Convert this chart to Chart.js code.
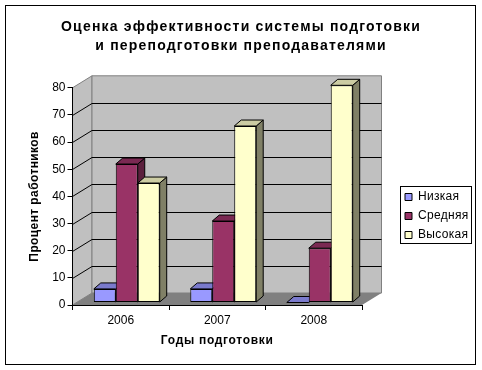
<!DOCTYPE html>
<html>
<head>
<meta charset="utf-8">
<script src="https://cdn.jsdelivr.net/npm/chart.js@4"></script>
<style>
    html, body { margin: 0; padding: 0; background: #fff; }
    #grafico { display: block; }
</style>
</head>
<body>
<div style="width:482px;height:370px"><canvas id="grafico" width="482" height="370"></canvas></div>
<script>
const years = ["2006", "2007", "2008"];
const lowValues = [5, 5, 0];
const midValues = [51, 30, 20];
const highValues = [44, 65, 80];
const chartTitle = ["Оценка эффективности системы подготовки", "и переподготовки преподавателями"];
const fontName = "'Liberation Sans', Arial, sans-serif";

// Depth of the fake 3D box and of the bars
const wallDx = 19.5, wallDy = -12;
const barDx = 7, barDy = -6;
const barShiftX = 6, barShiftY = -2.5;

const sideColors = ["#5c5c99", "#5c1f3d", "#808066"];
const topColors = ["#7a7acc", "#7a2952", "#cccca3"];

function poly(ctx, pts, fill, stroke) {
    ctx.beginPath();
    pts.forEach((p, i) => i ? ctx.lineTo(p[0], p[1]) : ctx.moveTo(p[0], p[1]));
    ctx.closePath();
    if (fill) { ctx.fillStyle = fill; ctx.fill(); }
    if (stroke) { ctx.strokeStyle = stroke; ctx.lineWidth = 1; ctx.stroke(); }
}

// The reference text is hinted wider than Liberation Sans, so spread the letters a bit
function spread(obj, method, spacing) {
    if (obj["_spread" + method]) return;
    obj["_spread" + method] = true;
    const original = obj[method];
    obj[method] = function () {
        const ctx = this.ctx;
        ctx.letterSpacing = spacing;
        original.apply(this, arguments);
        ctx.letterSpacing = "0px";
    };
}

const escena3d = {
    id: "escena3d",
    afterLayout(chart) {
        // legend sits right of the plot, the title is centred on the whole frame
        const l = chart.legend;
        l.left = 398; l.right = 471; l.top = 184; l.bottom = 280;
        l.width = 73; l.height = 96;
        const t = chart.titleBlock;
        t.left = 0; t.right = 482; t.width = 482;
        spread(t, "draw", "1.2px");
        spread(l, "draw", "0.3px");
        spread(chart.scales.x, "drawTitle", "0.7px");
        spread(chart.scales.y, "drawTitle", "0.4px");
    },
    beforeDraw(chart) {
        const ctx = chart.ctx, a = chart.chartArea, y = chart.scales.y;
        const L = a.left, R = a.right, T = a.top, B = a.bottom;
        ctx.save();
        ctx.fillStyle = "#fff";
        ctx.fillRect(0, 0, chart.width, chart.height);
        ctx.strokeStyle = "#000";
        ctx.lineWidth = 1;
        ctx.strokeRect(5.5, 5.5, 470, 359);

        // left wall, back wall, floor
        poly(ctx, [[L, T], [L + wallDx, T + wallDy], [L + wallDx, B + wallDy], [L, B]], "#c0c0c0", "#808080");
        poly(ctx, [[L + wallDx, T + wallDy], [R + wallDx, T + wallDy], [R + wallDx, B + wallDy], [L + wallDx, B + wallDy]], "#c0c0c0", "#808080");
        poly(ctx, [[L, B], [L + wallDx, B + wallDy], [R + wallDx, B + wallDy], [R, B]], "#808080");

        // gridlines run along the walls
        ctx.strokeStyle = "#000";
        y.ticks.forEach(t => {
            if (t.value === 0 || t.value === 80) return;
            const py = Math.round(y.getPixelForValue(t.value)) + 0.5;
            ctx.beginPath();
            ctx.moveTo(L, py);
            ctx.lineTo(L + wallDx, py + wallDy);
            ctx.lineTo(R + wallDx, py + wallDy);
            ctx.stroke();
        });
        ctx.restore();
    },
    beforeDatasetsDraw(chart) {
        const ctx = chart.ctx;
        ctx.save();
        ctx.translate(barShiftX, barShiftY);
        // side and top faces go first, the fronts are painted over them
        chart.data.datasets.forEach((ds, i) => {
            chart.getDatasetMeta(i).data.forEach(bar => {
                const p = bar.getProps(["x", "y", "base", "width"], true);
                const x0 = p.x - p.width / 2, x1 = p.x + p.width / 2;
                if (p.base - p.y > 0.5) {
                    poly(ctx, [[x1, p.y], [x1 + barDx, p.y + barDy], [x1 + barDx, p.base + barDy], [x1, p.base]], sideColors[i], "#000");
                }
                poly(ctx, [[x0, p.y], [x0 + barDx, p.y + barDy], [x1 + barDx, p.y + barDy], [x1, p.y]], topColors[i], "#000");
            });
        });
    },
    afterDatasetsDraw(chart) {
        chart.ctx.restore();
    },
    afterDraw(chart) {
        const ctx = chart.ctx;
        ctx.save();
        ctx.strokeStyle = "#000";
        ctx.lineWidth = 1;
        ctx.strokeRect(400.5, 186.5, 71, 57);
        ctx.restore();
    }
};

new Chart("grafico", {
    type: "bar",
    plugins: [escena3d],
    data: {
        labels: years,
        datasets: [
            { label: "Низкая", data: lowValues, backgroundColor: "#9999ff" },
            { label: "Средняя", data: midValues, backgroundColor: "#993366" },
            { label: "Высокая", data: highValues, backgroundColor: "#ffffcc" }
        ]
    },
    options: {
        responsive: false,
        animation: false,
        layout: { padding: { left: 22.5, right: 120, top: 18, bottom: 15 } },
        datasets: {
            bar: {
                categoryPercentage: 0.683,
                barPercentage: 1,
                borderColor: "#000",
                borderWidth: 1,
                borderSkipped: false
            }
        },
        plugins: {
            title: {
                display: true,
                text: chartTitle,
                color: "#000",
                font: { family: fontName, size: 14, weight: "bold", lineHeight: 1.35 },
                padding: { top: 0, bottom: 32 }
            },
            legend: {
                position: "chartArea",
                align: "start",
                labels: {
                    color: "#000",
                    font: { family: fontName, size: 12 },
                    boxWidth: 7,
                    boxHeight: 7,
                    padding: 7,
                    generateLabels(chart) {
                        return chart.data.datasets.map((ds, i) => ({
                            text: ds.label,
                            fillStyle: ds.backgroundColor,
                            strokeStyle: "#000",
                            lineWidth: 1,
                            datasetIndex: i
                        }));
                    }
                }
            },
            tooltip: { enabled: false }
        },
        scales: {
            x: {
                offset: true,
                afterFit: s => { s.height = 50; },
                grid: { display: true, offset: true, drawOnChartArea: false, color: "#000", tickLength: 5 },
                border: { color: "#000" },
                ticks: { color: "#000", font: { family: fontName, size: 12 }, padding: 3, maxRotation: 0 },
                title: {
                    display: true,
                    text: "Годы подготовки",
                    color: "#000",
                    font: { family: fontName, size: 12, weight: "bold" },
                    padding: { top: 7, bottom: 7 }
                }
            },
            y: {
                min: 0,
                max: 80,
                afterFit: s => { s.width = 50; },
                grid: { drawOnChartArea: false, color: "#000", tickLength: 5 },
                border: { color: "#000" },
                ticks: { stepSize: 10, color: "#000", font: { family: fontName, size: 12 }, padding: 2 },
                title: {
                    display: true,
                    text: "Процент работников",
                    color: "#000",
                    font: { family: fontName, size: 12, weight: "bold" },
                    padding: { top: 5, bottom: 6 }
                }
            }
        }
    }
});
</script>
</body>
</html>
